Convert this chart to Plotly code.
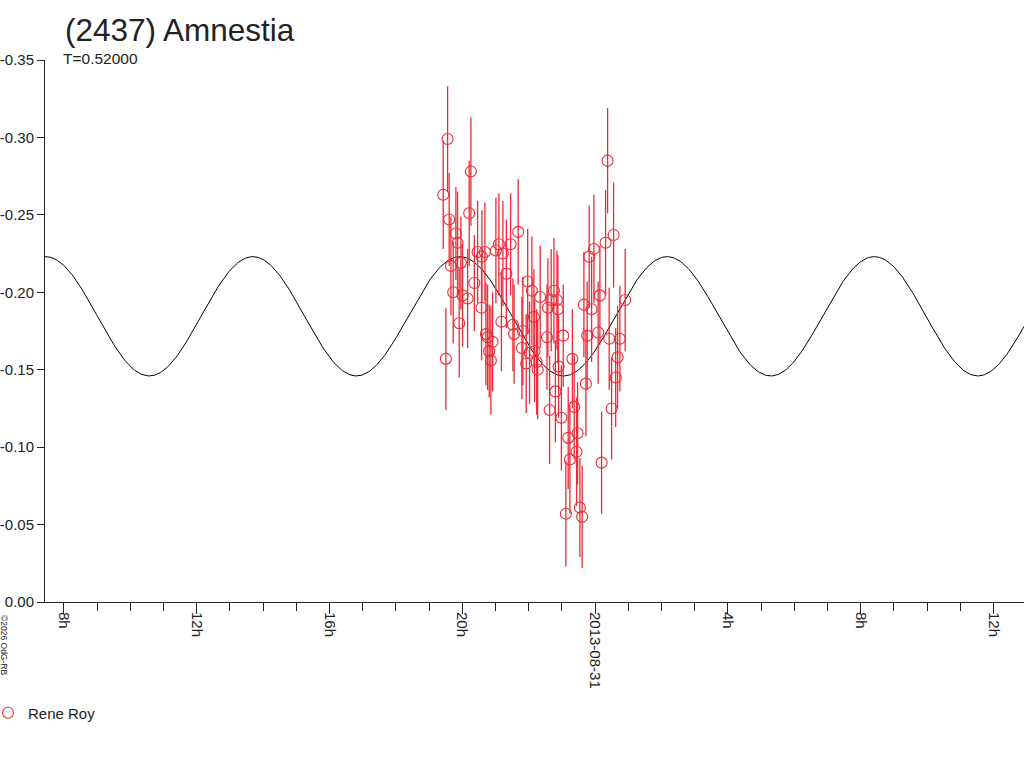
import numpy as np
import pandas as pd
import plotly.graph_objects as go

# ---- data (hours since 2013-08-30 00:00 UT, magnitude, error) ----
obs_hours = [19.425, 19.506, 19.557, 19.605, 19.657, 19.726, 19.807, 19.858, 19.907, 19.958,
             20.009, 20.160, 20.208, 20.259, 20.364, 20.461, 20.581, 20.590, 20.681, 20.711,
             20.762, 20.810, 20.861, 20.913, 21.012, 21.102, 21.178, 21.223, 21.327, 21.455,
             21.524, 21.560, 21.684, 21.795, 21.825, 21.925, 21.970, 22.027, 22.096, 22.157,
             22.178, 22.240, 22.270, 22.346, 22.550, 22.578, 22.630, 22.678, 22.760, 22.804,
             22.850, 22.880, 22.900, 22.985, 23.040, 23.120, 23.190, 23.241, 23.316, 23.371,
             23.443, 23.473, 23.542, 23.611, 23.663, 23.723, 23.762, 23.822, 23.895, 23.964,
             24.093, 24.145, 24.196, 24.316, 24.377, 24.425, 24.497, 24.557, 24.620, 24.678,
             24.747, 24.907]
obs_mag = [-0.263, -0.157, -0.299, -0.247, -0.217, -0.200, -0.238, -0.232, -0.180, -0.219,
           -0.198, -0.196, -0.251, -0.278, -0.206, -0.226, -0.190, -0.223, -0.226, -0.173,
           -0.171, -0.162, -0.156, -0.168, -0.227, -0.231, -0.181, -0.225, -0.212, -0.231,
           -0.179, -0.173, -0.239, -0.164, -0.175, -0.154, -0.207, -0.161, -0.201, -0.184,
           -0.162, -0.155, -0.150, -0.197, -0.171, -0.190, -0.124, -0.195, -0.201, -0.136,
           -0.195, -0.189, -0.152, -0.119, -0.172, -0.057, -0.106, -0.092, -0.157, -0.126,
           -0.097, -0.109, -0.061, -0.055, -0.192, -0.141, -0.172, -0.223, -0.189, -0.228,
           -0.174, -0.198, -0.090, -0.232, -0.285, -0.170, -0.125, -0.237, -0.145, -0.158,
           -0.170, -0.195]
obs_err = [0.035, 0.033, 0.034, 0.030, 0.032, 0.033, 0.030, 0.033, 0.035, 0.030,
           0.033, 0.032, 0.034, 0.035, 0.031, 0.033, 0.034, 0.030, 0.032, 0.033,
           0.034, 0.030, 0.035, 0.032, 0.034, 0.033, 0.032, 0.034, 0.035, 0.033,
           0.030, 0.032, 0.034, 0.033, 0.035, 0.032, 0.034, 0.033, 0.035, 0.031,
           0.033, 0.034, 0.032, 0.033, 0.034, 0.032, 0.035, 0.033, 0.034, 0.033,
           0.032, 0.035, 0.033, 0.034, 0.033, 0.034, 0.033, 0.035, 0.032, 0.034,
           0.035, 0.033, 0.032, 0.033, 0.034, 0.034, 0.035, 0.033, 0.034, 0.035,
           0.033, 0.032, 0.033, 0.034, 0.034, 0.033, 0.033, 0.034, 0.032, 0.033,
           0.034, 0.033]

# fitted light-curve model (double-peaked, period T)
PERIOD_DAYS = 0.52
FIT_MEAN = -0.1845
FIT_AMP = 0.0385
FIT_TROUGH_HOUR = 10.57

x_tick_hours = [8, 12, 16, 20, 24, 28, 32, 36]
x_tick_labels = ["8h", "12h", "16h", "20h", "2013-08-31", "4h", "8h", "12h"]
y_tick_vals = [-0.35, -0.30, -0.25, -0.20, -0.15, -0.10, -0.05, 0.00]
y_tick_labels = ["-0.35", "-0.30", "-0.25", "-0.20", "-0.15", "-0.10", "-0.05", "0.00"]

X_START_HOUR = 7.43
X_END_HOUR = 36.92

base = pd.Timestamp("2013-08-30 00:00")
to_dt = lambda h: base + pd.to_timedelta(np.asarray(h, dtype=float), unit="h")

RED = "#ee2a35"
FONT = "Liberation Sans, Arial, sans-serif"
TXT = "#222"

# plot area geometry (pixels)
L, R, T, B = 45, 0, 60, 166
PW, PH = 1024 - L - R, 768 - T - B

def px_x(p):
    return (p - L) / PW

def px_y(p):
    return (768 - B - p) / PH

fig = go.Figure()

curve_h = np.linspace(X_START_HOUR, X_END_HOUR, 800)
half_period_h = PERIOD_DAYS * 24 / 2
curve_m = FIT_MEAN + FIT_AMP * np.cos(2 * np.pi * (curve_h - FIT_TROUGH_HOUR) / half_period_h)
fig.add_trace(go.Scatter(x=to_dt(curve_h), y=curve_m, mode="lines",
                         line=dict(color="black", width=1), showlegend=False,
                         hoverinfo="skip"))

fig.add_trace(go.Scatter(
    x=to_dt(obs_hours), y=obs_mag, mode="markers", name="Rene Roy",
    marker=dict(symbol="circle-open", size=11, color=RED, line=dict(width=1.1, color=RED)),
    error_y=dict(type="data", array=obs_err, visible=True, color=RED, thickness=1.3, width=0),
))

fig.update_layout(
    width=1024, height=768,
    paper_bgcolor="white", plot_bgcolor="white",
    margin=dict(l=L, r=R, t=T, b=B, autoexpand=False),
    font=dict(family=FONT, size=15, color=TXT),
    title=dict(text="(2437) Amnestia", x=65 / 1024, xanchor="left", xref="container",
               y=1 - 30 / 768, yanchor="middle", yref="container",
               font=dict(size=31.5, family=FONT, color=TXT)),
    showlegend=True,
    legend=dict(x=px_x(-12), xanchor="left", y=px_y(713), yanchor="middle",
                font=dict(size=15, family=FONT, color=TXT),
                itemwidth=30, bgcolor="rgba(0,0,0,0)"),
    annotations=[
        dict(text="T=0.52000", xref="paper", yref="paper", x=px_x(61), y=px_y(58),
             xanchor="left", yanchor="middle", showarrow=False,
             font=dict(size=15.5, family=FONT, color=TXT)),
        dict(text="©2026 OdG-RB", xref="paper", yref="paper", x=px_x(4), y=px_y(645),
             xanchor="center", yanchor="middle", showarrow=False, textangle=90,
             font=dict(size=8.5, family=FONT, color=TXT)),
    ],
)

fig.update_xaxes(
    type="date", automargin=False,
    range=[to_dt([X_START_HOUR])[0], to_dt([X_END_HOUR])[0]],
    tickmode="array", tickvals=list(to_dt(x_tick_hours)), ticktext=x_tick_labels,
    tickangle=90, ticks="outside", ticklen=11, tickcolor=TXT, ticklabelstandoff=-5,
    showline=True, linecolor=TXT, linewidth=1, showgrid=False, zeroline=False,
    tickfont=dict(size=15, family=FONT, color=TXT),
    minor=dict(dtick=3600000, ticks="outside", ticklen=8, tickcolor=TXT, showgrid=False),
)
fig.update_yaxes(
    range=[0, -0.35], automargin=False, tickmode="array", tickvals=y_tick_vals,
    ticktext=y_tick_labels,
    ticks="outside", ticklen=7, tickcolor=TXT,
    showline=True, linecolor=TXT, linewidth=1, showgrid=False, zeroline=False,
    tickfont=dict(size=15, family=FONT, color=TXT),
)

fig.write_html("out.html", config={"displayModeBar": False},
               post_script="document.body.style.margin='0';")
